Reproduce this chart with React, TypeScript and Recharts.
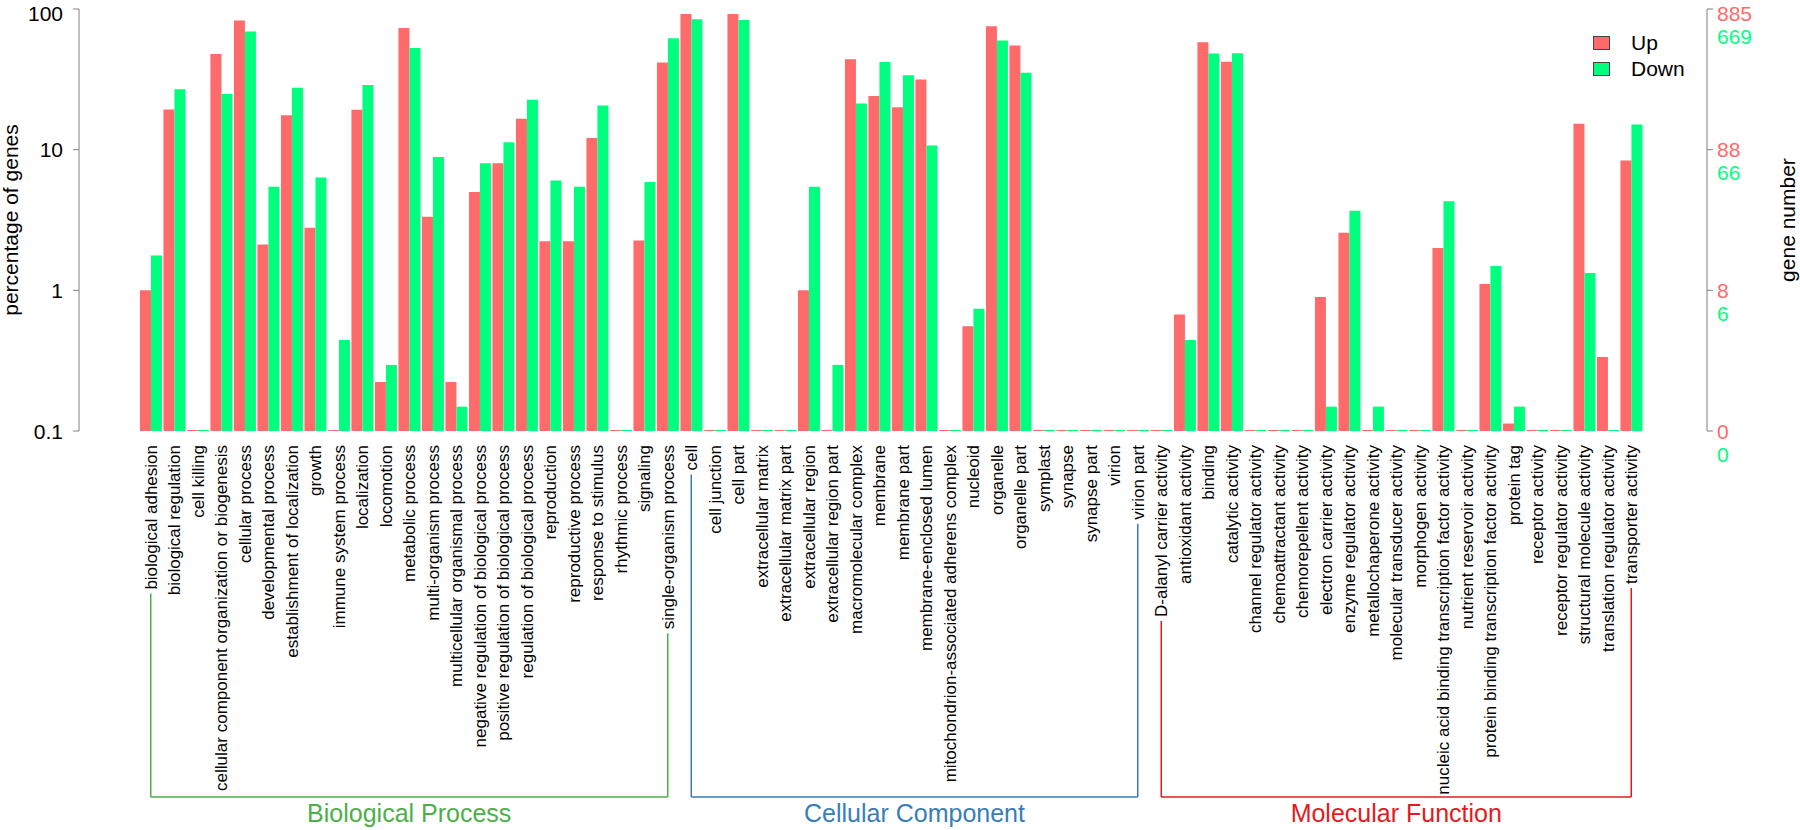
import { BarChart, Bar, XAxis, YAxis, Legend } from 'recharts'

const categories = [
  'biological adhesion', 'biological regulation', 'cell killing',
  'cellular component organization or biogenesis', 'cellular process',
  'developmental process', 'establishment of localization', 'growth',
  'immune system process', 'localization', 'locomotion', 'metabolic process',
  'multi-organism process', 'multicellular organismal process',
  'negative regulation of biological process', 'positive regulation of biological process',
  'regulation of biological process', 'reproduction', 'reproductive process',
  'response to stimulus', 'rhythmic process', 'signaling', 'single-organism process',
  'cell', 'cell junction', 'cell part', 'extracellular matrix', 'extracellular matrix part',
  'extracellular region', 'extracellular region part', 'macromolecular complex',
  'membrane', 'membrane part', 'membrane-enclosed lumen',
  'mitochondrion-associated adherens complex', 'nucleoid', 'organelle', 'organelle part',
  'symplast', 'synapse', 'synapse part', 'virion', 'virion part',
  'D-alanyl carrier activity', 'antioxidant activity', 'binding', 'catalytic activity',
  'channel regulator activity', 'chemoattractant activity', 'chemorepellent activity',
  'electron carrier activity', 'enzyme regulator activity', 'metallochaperone activity',
  'molecular transducer activity', 'morphogen activity',
  'nucleic acid binding transcription factor activity', 'nutrient reservoir activity',
  'protein binding transcription factor activity', 'protein tag', 'receptor activity',
  'receptor regulator activity', 'structural molecule activity',
  'translation regulator activity', 'transporter activity',
]

// percentage of genes
const upPct = [
  1.0, 19.3, 0, 47.8, 82.7, 2.12, 17.6, 2.79, 0, 19.2, 0.223, 73.4, 3.34, 0.223,
  5.0, 8.0, 16.6, 2.23, 2.23, 12.1, 0, 2.26, 41.7,
  92.2, 0, 92.2, 0, 0, 1.0, 0, 44.0, 24.1, 20.0, 31.6, 0, 0.556, 75.4, 55.0,
  0, 0, 0, 0, 0,
  0, 0.673, 58.1, 42.2, 0, 0, 0, 0.897, 2.57, 0, 0, 0, 2.0, 0, 1.11, 0.113,
  0, 0, 15.3, 0.336, 8.36,
]
const downPct = [
  1.77, 26.9, 0, 24.9, 69.1, 5.44, 27.5, 6.34, 0.443, 28.8, 0.295, 52.9, 8.87, 0.149,
  8.0, 11.3, 22.6, 6.04, 5.44, 20.6, 0, 5.9, 62.0,
  84.5, 0, 83.6, 0, 0, 5.44, 0.295, 21.3, 42.0, 33.8, 10.7, 0, 0.741, 59.7, 35.2,
  0, 0, 0, 0, 0,
  0, 0.443, 48.3, 48.5, 0, 0, 0, 0.149, 3.68, 0.149, 0, 0, 4.29, 0, 1.49, 0.149,
  0, 0, 1.33, 0, 15.1,
]

const groupNames = ['Biological Process', 'Cellular Component', 'Molecular Function']
const groupSizes = [23, 20, 21]
const groupColors = ['#4DAF4A', '#377EB8', '#E41A1C']

const pctTicks = [0.1, 1, 10, 100]
const upGeneTicks = [0, 8, 88, 885]
const downGeneTicks = [0, 6, 66, 669]

const UP = '#FF6A6A'
const DOWN = '#00FF7F'
const AXIS = '#808080'
const FONT = "'Liberation Sans', Arial, Helvetica, sans-serif"

const W = 1800
const H = 830
const LEFT_W = 79
const RIGHT_W = 93
const PAD_L = 60
const PAD_R = 64
const BAND = (W - LEFT_W - RIGHT_W - PAD_L - PAD_R) / categories.length
const LABEL_SIZE = 17
const TICK_SIZE = 21
const BRACKET_Y = 797
// keep the top tick labels inside the picture
const MIN_LABEL_Y = 13

const data = categories.map((name, i) => ({
  name,
  up: upPct[i] > 0 ? upPct[i] : pctTicks[0],
  down: downPct[i] > 0 ? downPct[i] : pctTicks[0],
}))

let ctx: CanvasRenderingContext2D | null = null
function textWidth(s: string, size: number) {
  if (!ctx) ctx = document.createElement('canvas').getContext('2d')
  if (!ctx) return s.length * size * 0.5
  ctx.font = `${size}px 'Liberation Sans'`
  return ctx.measureText(s).width
}

function CategoryTick(props: any) {
  const { x, y, payload, index } = props
  let start = 0
  let g = 0
  while (index >= start + groupSizes[g]) {
    start += groupSizes[g]
    g++
  }
  const end = start + groupSizes[g] - 1
  const color = groupColors[g]
  const label = String(payload.value)
  const labelEnd = y + textWidth(label, LABEL_SIZE)
  const xFirst = x - (index - start) * BAND
  return (
    <g>
      <text
        x={x} y={y} dy="0.36em"
        transform={`rotate(-90 ${x} ${y})`}
        textAnchor="end" fontSize={LABEL_SIZE} fontFamily={FONT} fill="#000"
      >
        {label}
      </text>
      {(index === start || index === end) && (
        <line x1={x} x2={x} y1={labelEnd + 4} y2={BRACKET_Y} stroke={color} strokeWidth={1.5} />
      )}
      {index === end && (
        <g>
          <line x1={xFirst} x2={x} y1={BRACKET_Y} y2={BRACKET_Y} stroke={color} strokeWidth={1.5} />
          <text
            x={(xFirst + x) / 2} y={822} textAnchor="middle"
            fontSize={25} fontFamily={FONT} fill={color}
          >
            {groupNames[g]}
          </text>
        </g>
      )}
    </g>
  )
}

function PctTick(props: any) {
  const { x, y, payload } = props
  return (
    <text
      x={x} y={Math.max(y, MIN_LABEL_Y)} dy="0.36em" textAnchor="end"
      fontSize={TICK_SIZE} fontFamily={FONT} fill="#000"
    >
      {String(payload.value)}
    </text>
  )
}

function GeneTick(props: any) {
  const { x, y, index } = props
  const ly = Math.max(y, MIN_LABEL_Y)
  return (
    <g fontSize={TICK_SIZE} fontFamily={FONT}>
      <text x={x} y={ly} dy="0.36em" fill={UP}>{upGeneTicks[index]}</text>
      <text x={x} y={ly + 23} dy="0.36em" fill={DOWN}>{downGeneTicks[index]}</text>
    </g>
  )
}

function AxisTitle(props: any) {
  const { viewBox, text, dx } = props
  const cx = viewBox.x + dx
  const cy = viewBox.y + viewBox.height / 2
  return (
    <text
      x={cx} y={cy} transform={`rotate(-90 ${cx} ${cy})`}
      textAnchor="middle" fontSize={21} fontFamily={FONT} fill="#000"
    >
      {text}
    </text>
  )
}

const legendItems = [
  { label: 'Up', color: UP },
  { label: 'Down', color: DOWN },
]

function LegendBox() {
  return (
    <div style={{ fontFamily: FONT, fontSize: 21, color: '#000' }}>
      {legendItems.map((it) => (
        <div key={it.label} style={{ display: 'flex', alignItems: 'center', height: 26 }}>
          <span
            style={{
              display: 'inline-block', width: 15, height: 12, background: it.color,
              border: '1px solid #444', marginRight: 21,
            }}
          />
          {it.label}
        </div>
      ))}
    </div>
  )
}

export default function App() {
  return (
    <div style={{ width: W, height: H, background: '#fff' }}>
      <style>{'body{margin:0;background:#fff}'}</style>
      <BarChart
        width={W} height={H} data={data}
        margin={{ top: 9, right: 0, bottom: 0, left: 0 }}
        barCategoryGap="4%" barGap={0}
      >
        <XAxis
          dataKey="name" interval={0} height={H - 431}
          padding={{ left: PAD_L, right: PAD_R }}
          axisLine={false} tickLine={false} tickSize={0} tickMargin={14}
          tick={<CategoryTick />}
        />
        <YAxis
          yAxisId="left" scale="log" domain={[0.1, 100]} ticks={pctTicks}
          allowDataOverflow width={LEFT_W} stroke={AXIS} tickSize={6} tickMargin={10}
          tick={<PctTick />}
          label={<AxisTitle text="percentage of genes" dx={18} />}
        />
        <YAxis
          yAxisId="right" orientation="right" scale="log" domain={[0.1, 100]} ticks={pctTicks}
          allowDataOverflow width={RIGHT_W} stroke={AXIS} tickSize={6} tickMargin={4}
          tick={<GeneTick />}
          label={<AxisTitle text="gene number" dx={88} />}
        />
        <Legend
          layout="horizontal" verticalAlign="middle" align="center"
          content={<LegendBox />}
          wrapperStyle={{ position: 'absolute', left: 1593, top: 30, width: 120 }}
        />
        <Bar yAxisId="left" dataKey="up" name="Up" fill={UP} minPointSize={1} isAnimationActive={false} />
        <Bar yAxisId="left" dataKey="down" name="Down" fill={DOWN} minPointSize={1} isAnimationActive={false} />
      </BarChart>
    </div>
  )
}
